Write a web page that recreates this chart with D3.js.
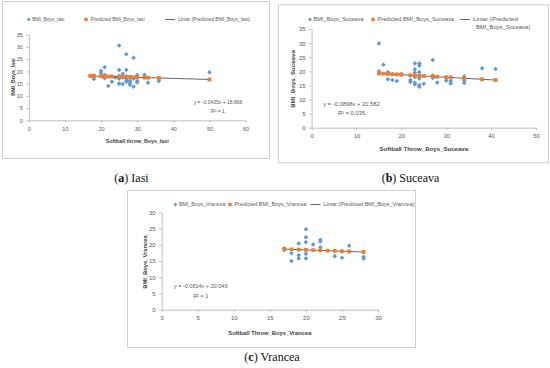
<!DOCTYPE html>
<html><head><meta charset="utf-8">
<script src="https://cdn.jsdelivr.net/npm/d3@7"></script>
<style>body{margin:0;background:#fff}svg{display:block}</style>
</head><body>
<svg id="chart" width="550" height="368"></svg>
<script>
// ---------- DATA ----------
// (a) Iasi
const iasiX   = [18,18,20,20,20,21,21,21,22,23,24,25,25,25,25,25,26,26,26,27,27,27,27,27,28,28,28,28,29,29,29,30,30,30,32,33,36,50];
const iasiBMI = [16.9,18.3,20.2,19.3,18.0,21.7,17.2,18.5,14.0,15.8,17.5,30.6,20.6,18.2,17.0,15.0,14.8,17.5,19.0,27.0,20.6,15.8,16.5,18.0,15.4,14.5,16.2,17.8,25.6,13.7,17.0,15.5,16.0,18.5,18.6,15.4,16.1,19.6];
const iasiPredX = [17,18,20,21,22,23,25,26,27,28,29,30,32,33,36,50];
const iasiPred  = [18.13,18.08,18.00,17.95,17.91,17.87,17.78,17.74,17.69,17.65,17.60,17.56,17.47,17.43,17.30,16.69];
// (b) Suceava
const sucX   = [15,15,16,17,17,18,18,19,20,22,22,22,23,23,23,23,23,23,24,24,24,24,24,24,25,27,27,27,28,30,30,31,31,31,34,34,34,38,41];
const sucBMI = [29.9,20.0,22.3,17.2,19.7,16.9,19.0,16.6,19.0,16.9,16.2,18.5,22.8,20.7,19.6,15.9,15.3,18.0,22.8,22.0,19.7,15.1,14.5,17.5,15.6,24.0,17.6,18.5,16.0,16.7,17.6,15.7,16.5,17.8,18.2,16.8,15.9,21.1,20.8];
const sucPredX = [15,16,17,18,19,20,22,23,24,25,27,28,30,31,34,38,41];
const sucPred  = [19.24,19.15,19.06,18.97,18.88,18.79,18.61,18.52,18.43,18.34,18.16,18.07,17.89,17.80,17.53,17.17,16.90];
// (c) Vrancea
const vraX   = [17,17,18,18,19,19,19,20,20,20,20,20,21,22,22,22,24,25,26,28,28];
const vraBMI = [18.4,18.9,17.4,15.0,20.4,16.8,15.8,24.8,22.3,20.8,17.2,15.8,20.1,21.5,21.0,19.2,16.5,16.0,19.7,16.3,15.7];
const vraPredX = [17,18,19,20,21,22,23,24,25,26,28];
const vraPred  = [18.67,18.58,18.50,18.42,18.34,18.26,18.18,18.10,18.01,17.93,17.77];

// tick labels
const iasiXTicks = [0,10,20,30,40,50,60];
const iasiYTicks = [0,5,10,15,20,25,30,35];
const sucXTicks  = [0,10,20,30,40,50];
const sucYTicks  = [0,5,10,15,20,25,30,35];
const vraXTicks  = [0,5,10,15,20,25,30];
const vraYTicks  = [0,5,10,15,20,25,30];

// texts
const legendA = ["BMI_Boys_Iasi","Predicted BMI_Boys_Iasi","Liniar (Predicted BMI_Boys_Iasi)"];
const legendB = ["BMI_Boys_Suceava","Predicted BMI_Boys_Suceava","Liniar (Predicted","BMI_Boys_Suceava)"];
const legendC = ["BMI_Boys_Vrancea","Predicted BMI_Boys_Vrancea","Liniar (Predicted BMI_Boys_Vrancea)"];

// ---------- DRAW ----------
const svg = d3.select("#chart");
const SANS = "'Liberation Sans', Arial, sans-serif";
const BLUE = "#5b9bd5", ORANGE = "#ed7d31", AX = "#bfbfbf", TXT = "#595959";

const panels = [
  {box:[2,1,267,157], xr:[28.8,245.6], yr:[120.3,34.7], xd:[0,60], yd:[0,35],
   xs:iasiX, ys:iasiBMI, px:iasiPredX, py:iasiPred, xt:iasiXTicks, yt:iasiYTicks,
   fs:5.5, lfs:5, leg:legendA, legY:19.5, legPos:[28.8,86,165], legTL:[32,54,72],
   xTitle:"Softball throw_Boys_Iasi", xTitleY:143, yTitle:"BMI_Boys_Iasi", yTitleX:13, yTitleY:77,
   eq:["y = -0.0435x + 18.866","R² = 1"], eqX:218, eqY:[104,112.5], eqTL:51,
   cap:["(","a",") Iasi"], capX:131.5, capY:182},
  {box:[278,4.3,270,158], xr:[311.6,536], yr:[127.7,29], xd:[0,50], yd:[0,35],
   xs:sucX, ys:sucBMI, px:sucPredX, py:sucPred, xt:sucXTicks, yt:sucYTicks,
   fs:6, lfs:5.8, leg:legendB, legY:19.5, legPos:[310,373,460], legTL:[50,76.5,45],
   xTitle:"Softball Throw_Boys_Suceava", xTitleY:151, yTitle:"BMI_Boys_Suceava", yTitleX:293, yTitleY:79,
   eq:["y = -0.0898x + 20.582","R² = 0.035"], eqX:351.5, eqY:[105.5,114.5], eqTL:61,
   cap:["(","b",") Suceava"], capX:410.5, capY:182},
  {box:[127,190,288,157], xr:[161.7,378], yr:[309.7,212.3], xd:[0,30], yd:[0,30],
   xs:vraX, ys:vraBMI, px:vraPredX, py:vraPred, xt:vraXTicks, yt:vraYTicks,
   fs:6, lfs:5.5, leg:legendC, legY:204.5, legPos:[175.4,230,310.5], legTL:[46.5,72,91],
   xTitle:"Softball Throw_Boys_Vrancea", xTitleY:334.5, yTitle:"BMI_Boys_Vrancea", yTitleX:145, yTitleY:262,
   eq:["y = -0.0814x + 20.049","R² = 1"], eqX:200.7, eqY:[288,297.5], eqTL:58,
   cap:["(","c",") Vrancea"], capX:272, capY:361}
];

const diamond = s => `M0,${-s}L${s},0L0,${s}L${-s},0Z`;

panels.forEach(p => {
  const g = svg.append("g");
  g.append("rect").attr("x",p.box[0]+0.5).attr("y",p.box[1]+0.5)
    .attr("width",p.box[2]).attr("height",p.box[3])
    .attr("fill","#fff").attr("stroke","#d0d0d0").attr("stroke-width",1);

  const x = d3.scaleLinear().domain(p.xd).range(p.xr);
  const y = d3.scaleLinear().domain(p.yd).range(p.yr);

  const xa = g.append("g").attr("transform",`translate(0,${p.yr[0]})`)
    .call(d3.axisBottom(x).tickValues(p.xt).tickSize(2.5).tickSizeOuter(0).tickPadding(4));
  const ya = g.append("g").attr("transform",`translate(${p.xr[0]},0)`)
    .call(d3.axisLeft(y).tickValues(p.yt).tickSize(2.5).tickSizeOuter(0).tickPadding(3.5));
  [xa,ya].forEach(a => {
    a.select(".domain").attr("stroke",AX);
    a.selectAll(".tick line").attr("stroke",AX);
    a.selectAll(".tick text").attr("fill",TXT).style("font-family",SANS).style("font-size",p.fs+"px");
  });

  // blue observed points
  g.selectAll("path.obs").data(p.xs).enter().append("path").attr("class","obs")
    .attr("d",diamond(2.3)).attr("fill",BLUE)
    .attr("transform",(d,i)=>`translate(${x(d)},${y(p.ys[i])})`);

  // trend line
  const line = d3.line().x(d=>x(d[0])).y(d=>y(d[1]));
  const ends = [[p.px[0],p.py[0]],[p.px[p.px.length-1],p.py[p.py.length-1]]];
  g.append("path").datum(ends).attr("d",line).attr("stroke","#404040").attr("stroke-width",0.8).attr("fill","none");

  // orange predicted squares
  g.selectAll("rect.pred").data(p.px).enter().append("rect").attr("class","pred")
    .attr("x",d=>x(d)-1.9).attr("y",(d,i)=>y(p.py[i])-1.9)
    .attr("width",3.8).attr("height",3.8).attr("fill",ORANGE);

  // legend
  const lg = g.append("g").style("font-family",SANS).style("font-size",p.lfs+"px").attr("fill",TXT);
  lg.append("path").attr("d",diamond(1.9)).attr("fill",BLUE).attr("transform",`translate(${p.legPos[0]},${p.legY})`);
  lg.append("text").attr("x",p.legPos[0]+3.5).attr("y",p.legY+1.8).attr("textLength",p.legTL[0]).attr("lengthAdjust","spacingAndGlyphs").text(p.leg[0]);
  lg.append("rect").attr("x",p.legPos[1]-1.7).attr("y",p.legY-1.7).attr("width",3.4).attr("height",3.4).attr("fill",ORANGE);
  lg.append("text").attr("x",p.legPos[1]+4.5).attr("y",p.legY+1.8).attr("textLength",p.legTL[1]).attr("lengthAdjust","spacingAndGlyphs").text(p.leg[1]);
  lg.append("line").attr("x1",p.legPos[2]).attr("x2",p.legPos[2]+10).attr("y1",p.legY).attr("y2",p.legY).attr("stroke","#404040").attr("stroke-width",0.8);
  lg.append("text").attr("x",p.legPos[2]+13).attr("y",p.legY+1.8).attr("textLength",p.legTL[2]).attr("lengthAdjust","spacingAndGlyphs").text(p.leg[2]);
  if (p.leg[3]) lg.append("text").attr("x",p.legPos[2]+16).attr("y",p.legY+9.8).text(p.leg[3]);

  // axis titles
  g.append("text").attr("x",(p.xr[0]+p.xr[1])/2).attr("y",p.xTitleY).attr("text-anchor","middle")
    .style("font-family",SANS).style("font-size",(p.lfs+0.3)+"px").style("font-weight","bold").attr("fill","#404040").text(p.xTitle);
  g.append("text").attr("transform",`translate(${p.yTitleX},${p.yTitleY}) rotate(-90)`).attr("text-anchor","middle").attr("dy","0.35em")
    .style("font-family",SANS).style("font-size",(p.lfs+0.3)+"px").style("font-weight","bold").attr("fill","#404040").text(p.yTitle);

  // equation
  g.append("text").attr("x",p.eqX).attr("y",p.eqY[0]).attr("text-anchor","middle")
    .style("font-family",SANS).style("font-size",p.lfs+"px").attr("fill",TXT).text(p.eq[0]);
  g.append("text").attr("x",p.eqX).attr("y",p.eqY[1]).attr("text-anchor","middle")
    .style("font-family",SANS).style("font-size",p.lfs+"px").attr("fill",TXT).text(p.eq[1]);

  // caption
  const c = svg.append("text").attr("x",p.capX).attr("y",p.capY).attr("text-anchor","middle")
    .style("font-family","'Liberation Serif','DejaVu Serif',serif").style("font-size","12px").attr("fill","#111");
  c.append("tspan").text(p.cap[0]);
  c.append("tspan").style("font-weight","bold").text(p.cap[1]);
  c.append("tspan").text(p.cap[2]);
});
</script>
</body></html>
